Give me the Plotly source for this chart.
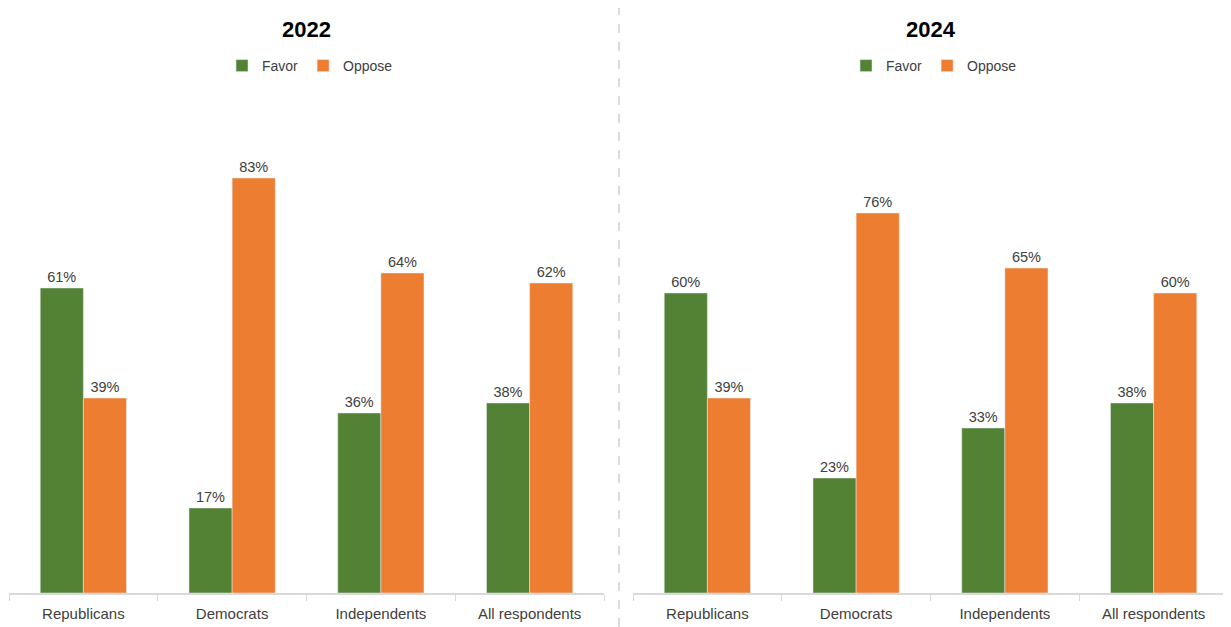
import plotly.graph_objects as go
from plotly.subplots import make_subplots

categories = ["Republicans", "Democrats", "Independents", "All respondents"]
favor_2022 = [61, 17, 36, 38]
oppose_2022 = [39, 83, 64, 62]
favor_2024 = [60, 23, 33, 38]
oppose_2024 = [39, 76, 65, 60]
years = ["2022", "2024"]

GREEN = "#548235"
ORANGE = "#ED7D31"
TXT = "#404040"
FONT = "Liberation Sans, Arial, sans-serif"
OFF = 8  # page body margin
W, H = 1231 - OFF, 627 - OFF

def px(x):
    return (x - OFF) / W

def py(y):
    return 1 - (y - OFF) / H

fig = make_subplots(rows=1, cols=2)

def add(col, fav, opp, legend):
    fig.add_trace(go.Bar(x=categories, y=fav, name="Favor", marker_color=GREEN,
                         text=[f"{v}%" for v in fav], textposition="outside",
                         textfont=dict(size=14.5, color=TXT, family=FONT),
                         cliponaxis=False, legend=legend), row=1, col=col)
    fig.add_trace(go.Bar(x=categories, y=opp, name="Oppose", marker_color=ORANGE,
                         text=[f"{v}%" for v in opp], textposition="outside",
                         textfont=dict(size=14.5, color=TXT, family=FONT),
                         cliponaxis=False, legend=legend), row=1, col=col)

add(1, favor_2022, oppose_2022, "legend")
add(2, favor_2024, oppose_2024, "legend2")

ybot = py(593)
ytop = py(93)
axis_common = dict(showline=True, linecolor="#d9d9d9", linewidth=1.5,
                   ticks="outside", tickson="boundaries", ticklen=6, tickcolor="#d9d9d9",
                   ticklabelstandoff=6,
                   tickfont=dict(size=15, color=TXT, family=FONT), showgrid=False)
fig.update_layout(
    xaxis=dict(domain=[px(9), px(604)], **axis_common),
    xaxis2=dict(domain=[px(633), px(1228)], **axis_common),
    yaxis=dict(domain=[ybot, ytop], range=[0, 100], visible=False),
    yaxis2=dict(domain=[ybot, ytop], range=[0, 100], visible=False),
)

leg = dict(orientation="h", xanchor="center", yanchor="middle", y=py(66),
           font=dict(size=14, color=TXT, family=FONT), bgcolor="rgba(0,0,0,0)",
           itemclick=False, itemwidth=30, tracegroupgap=0)
fig.update_layout(
    width=W, height=H,
    margin=dict(l=0, r=0, t=0, b=0),
    plot_bgcolor="white", paper_bgcolor="white",
    barmode="group", bargap=0.42, bargroupgap=0,
    showlegend=True,
    legend=dict(x=px(310), **leg),
    legend2=dict(x=px(934), **leg),
    font=dict(family=FONT),
)

for x, yr in zip([px(306.5), px(931)], years):
    fig.add_annotation(x=x, y=py(30), xref="paper", yref="paper", text=f"<b>{yr}</b>",
                       showarrow=False, font=dict(size=22, color="black", family=FONT),
                       xanchor="center", yanchor="middle")

fig.add_shape(type="line", xref="paper", yref="paper", x0=px(619), x1=px(619),
              y0=0, y1=1, line=dict(color="#d0d0d0", width=1.5, dash="dash"))

fig.write_html("out.html")
